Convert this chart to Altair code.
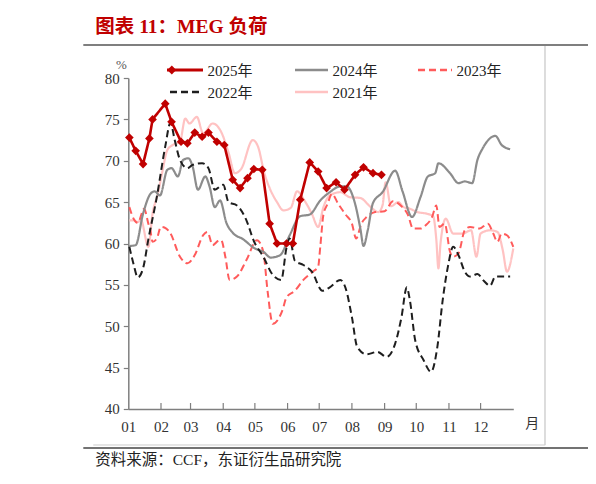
import altair as alt
import pandas as pd

# ---- data (day of year, value %) ----
MONTH_STARTS = [0, 31, 59, 90, 120, 151, 181, 212, 243, 273, 304, 334]

d2025 = [1, 7, 14, 20, 23, 35, 41, 50, 56, 63, 70, 76, 84, 91, 99, 106, 113, 119, 127, 134,
         141, 150, 156, 163, 172, 180, 188, 197, 205, 215, 223, 232, 240]
v2025 = [72.8, 71.2, 69.6, 72.7, 75.0, 76.9, 74.7, 72.3, 72.1, 73.4, 72.9, 73.4, 72.3, 71.9, 67.7,
         66.7, 67.9, 69.0, 68.9, 62.4, 60.0, 60.0, 60.0, 65.3, 69.8, 68.7, 66.7, 67.4, 66.5, 68.3,
         69.2, 68.5, 68.3]

d2024 = [1, 7, 14, 21, 25, 30, 37, 41, 47, 52, 57, 61, 66, 73, 77, 82, 87, 93, 99, 109, 120, 128,
         135, 144, 153, 163, 172, 182, 191, 201, 207, 215, 220, 223, 227, 232, 241, 253, 260, 269,
         277, 284, 291, 294, 305, 313, 319, 326, 331, 336, 348, 354, 362]
v2024 = [59.7, 59.8, 63.6, 66.0, 66.3, 65.8, 68.9, 69.1, 68.1, 70.1, 70.3, 69.3, 66.5, 68.1, 66.9,
         64.4, 65.2, 62.5, 61.3, 60.5, 59.4, 59.0, 58.3, 58.6, 61.0, 63.3, 63.5, 65.2, 66.2, 66.9,
         66.9, 64.8, 61.8, 59.7, 61.6, 64.9, 66.2, 68.8, 66.3, 63.2, 65.6, 68.1, 68.5, 69.7, 68.5,
         67.3, 67.5, 67.3, 70.1, 71.5, 73.0, 71.9, 71.4]

d2023 = [1, 5, 9, 15, 19, 21, 23, 27, 31, 36, 40, 49, 56, 63, 71, 75, 80, 85, 88, 92, 96, 103, 112,
         122, 128, 132, 137, 146, 150, 158, 166, 175, 180, 182, 185, 189, 193, 199, 206, 212, 216,
         221, 226, 234, 243, 251, 259, 265, 270, 277, 282, 288, 292, 295, 300, 305, 308, 313, 319,
         324, 333, 341, 346, 350, 354, 359, 365]
v2023 = [64.4, 63.0, 62.5, 64.2, 62.4, 61.5, 60.2, 60.6, 62.0, 61.8, 61.2, 58.4, 57.6, 58.6, 61.0,
         61.4, 59.8, 60.3, 60.4, 58.4, 55.6, 56.0, 58.0, 60.4, 59.0, 54.3, 50.3, 51.9, 53.5, 54.3,
         55.6, 56.6, 57.2, 59.6, 63.5, 64.8, 66.0, 64.8, 63.5, 62.4, 60.6, 62.4, 63.2, 63.8, 63.9,
         65.1, 64.5, 63.5, 61.8, 61.8, 62.2, 63.2, 64.6, 62.0, 62.4, 59.0, 58.4, 58.8, 61.6, 62.0,
         61.8, 62.4, 61.2, 60.2, 61.2, 61.0, 59.6]

d2022 = [1, 5, 9, 14, 19, 27, 35, 40, 44, 49, 56, 61, 70, 76, 82, 90, 95, 103, 112, 119, 128, 137,
         145, 150, 153, 158, 166, 174, 184, 191, 201, 206, 212, 217, 226, 236, 245, 253, 259, 264,
         267, 272, 280, 287, 293, 298, 303, 308, 313, 319, 324, 331, 337, 343, 348, 352, 362]
v2022 = [59.6, 57.5, 55.9, 57.0, 60.5, 65.6, 71.7, 74.6, 72.5, 70.1, 69.1, 69.5, 69.7, 69.1, 66.5,
         67.1, 65.0, 64.6, 62.8, 60.3, 58.4, 56.2, 55.6, 59.5, 60.6, 57.9, 57.4, 56.6, 54.3, 54.7,
         55.6, 54.6, 51.1, 47.5, 46.6, 46.9, 46.3, 47.9, 51.1, 54.7, 53.1, 48.3, 45.9, 44.5, 47.5,
         53.1, 57.2, 59.6, 58.6, 56.6, 56.0, 56.3, 55.5, 54.9, 56.0, 56.0, 56.0]

d2021 = [1, 5, 9, 12, 19, 23, 28, 32, 37, 42, 49, 54, 58, 65, 71, 80, 88, 95, 101, 107, 118, 123,
         129, 134, 141, 147, 154, 160, 167, 174, 180, 185, 191, 201, 210, 220, 229, 237, 241, 244,
         249, 256, 261, 267, 274, 283, 289, 292, 294, 296, 301, 308, 317, 325, 330, 334, 343, 350,
         355, 359, 365]
v2021 = [62.8, 62.8, 62.6, 62.8, 59.6, 63.6, 66.0, 68.5, 71.3, 71.9, 72.3, 75.1, 74.5, 75.3, 73.3,
         74.5, 73.5, 71.0, 68.5, 69.0, 72.5, 71.7, 68.5, 66.7, 65.0, 64.0, 64.3, 66.3, 65.2, 63.6,
         62.0, 64.4, 65.8, 66.2, 65.6, 65.5, 64.5, 63.8, 64.6, 67.4, 64.5, 65.0, 64.4, 64.2, 63.8,
         63.6, 63.3, 60.5, 57.0, 60.0, 63.0, 61.2, 61.2, 61.6, 58.4, 61.2, 61.6, 61.4, 59.2, 56.6,
         59.4]

Y_TICKS = [40, 45, 50, 55, 60, 65, 70, 75, 80]

TITLE = "图表 11：MEG 负荷"
SOURCE = "资料来源：CCF，东证衍生品研究院"
UNIT = "%"
MONTH_WORD = "月"

SERIES = ["2025年", "2024年", "2023年", "2022年", "2021年"]
COLORS = {"2025年": "#C00000", "2024年": "#8C8C8C", "2023年": "#FF5B5B",
          "2022年": "#1E1E1E", "2021年": "#FFC2C2"}
DASHES = {"2025年": [1, 0], "2024年": [1, 0], "2023年": [7, 4], "2022年": [7, 4], "2021年": [1, 0]}

# ---- layout ----
W, H = 385, 331
SERIF = "Liberation Serif, Noto Sans CJK SC"
CJK = "Noto Sans CJK SC"

xs = alt.Scale(domain=[0, 365], nice=False, zero=False)
ys = alt.Scale(domain=[40, 80], nice=False, zero=False)

x_axis = alt.Axis(values=MONTH_STARTS,
                  labelExpr="timeFormat(datetime(2021, 0, 1 + datum.value), '%m')",
                  tickSize=0, labelPadding=11, labelFont=SERIF, labelFontSize=15,
                  labelColor="#333333", labelFlush=False, labelOverlap=False,
                  labelSeparation=0, labelBound=False,
                  domainColor="#7F7F7F", domainWidth=1.5, grid=False, title=None)
y_axis = alt.Axis(values=Y_TICKS, tickSize=5, tickColor="#7F7F7F", tickWidth=1.2,
                  labelPadding=4, labelFont=SERIF, labelFontSize=15, labelColor="#333333",
                  labelOverlap=False,
                  domainColor="#7F7F7F", domainWidth=1.5, grid=False, title=None)

X_ENC = alt.X("day:Q", scale=xs, axis=x_axis)
Y_ENC = alt.Y("value:Q", scale=ys, axis=y_axis)


def frame(days, vals):
    return pd.DataFrame({"day": days, "value": vals})


def series_line(days, vals, name, width=2.0, interp="monotone"):
    return alt.Chart(frame(days, vals)).mark_line(
        interpolate=interp, strokeWidth=width, color=COLORS[name],
        strokeDash=DASHES[name]
    ).encode(x=X_ENC, y=Y_ENC)


l2021 = series_line(d2021, v2021, "2021年", 2.2)
l2023 = series_line(d2023, v2023, "2023年", 2.0)
l2024 = series_line(d2024, v2024, "2024年", 2.2)
l2022 = series_line(d2022, v2022, "2022年", 2.0)
l2025 = series_line(d2025, v2025, "2025年", 2.6, interp="linear")
p2025 = alt.Chart(frame(d2025, v2025)).mark_point(
    shape="diamond", filled=True, size=75, opacity=1, color=COLORS["2025年"]
).encode(x=X_ENC, y=Y_ENC)

# inward x ticks at month starts
xticks = alt.Chart(pd.DataFrame({"day": MONTH_STARTS[1:]})).mark_rule(
    color="#7F7F7F", strokeWidth=1.2
).encode(x=X_ENC, y=alt.value(H), y2=alt.value(H - 6))

one = pd.DataFrame({"k": [0]})


def rule(x1, x2, y1, y2, color, width=1.0, dash=None):
    kw = dict(color=color, strokeWidth=width)
    if dash:
        kw["strokeDash"] = dash
    return alt.Chart(one).mark_rule(**kw).encode(
        x=alt.value(x1), x2=alt.value(x2), y=alt.value(y1), y2=alt.value(y2))


def label(txt, x, y, size, color="#222222", font=SERIF, weight="normal", align="left"):
    return alt.Chart(one).mark_text(
        text=txt, align=align, baseline="middle", font=font, fontSize=size,
        color=color, fontWeight=weight
    ).encode(x=alt.value(x), y=alt.value(y))


# legend (manual, two rows)
LEG = [("2025年", 38.7, 74.7, -8), ("2024年", 166.7, 199.7, -8), ("2023年", 289.7, 323.7, -8),
       ("2022年", 41.7, 74.7, 14), ("2021年", 166.7, 199.7, 14)]
legend_layers = []
for name, x1, x2, yy in LEG:
    dash = DASHES[name] if DASHES[name] != [1, 0] else None
    legend_layers.append(rule(x1, x2, yy, yy, COLORS[name], 3 if name == "2025年" else 2.6, dash))
    legend_layers.append(label(name, x2 + 4.5, yy + 0.5, 15, "#222222"))
legend_layers.append(
    alt.Chart(one).mark_point(shape="diamond", filled=True, size=80, opacity=1,
                              color=COLORS["2025年"]).encode(x=alt.value(43.5), y=alt.value(-8)))

deco = [
    label(TITLE, -33, -51, 19.5, "#C00000", SERIF, "bold"),
    rule(-45, 470, -33, -33, "#555555", 1.6),
    rule(416.7, 416.7, -32, 367, "#BBBBBB", 1.0),
    rule(-35, 417, 367, 367, "#CCCCCC", 1.0),
    rule(-45, 470, 370, 370, "#444444", 1.4),
    label(SOURCE, -33, 382, 15.5, "#222222", SERIF),
    label(UNIT, -7, -13, 13, "#555555", SERIF, align="center"),
    label(MONTH_WORD, 404, 346, 14, "#333333", CJK, align="center"),
]

chart = alt.layer(
    l2021, l2023, l2024, l2022, l2025, p2025, xticks, *legend_layers, *deco
).properties(
    width=W, height=H,
    autosize=alt.AutoSizeParams(type="none"),
    padding={"left": 120.3, "top": 70, "right": 74.5, "bottom": 66},
).configure_view(strokeWidth=0)

chart.save("out.html", embed_options={"renderer": "svg", "actions": False})
